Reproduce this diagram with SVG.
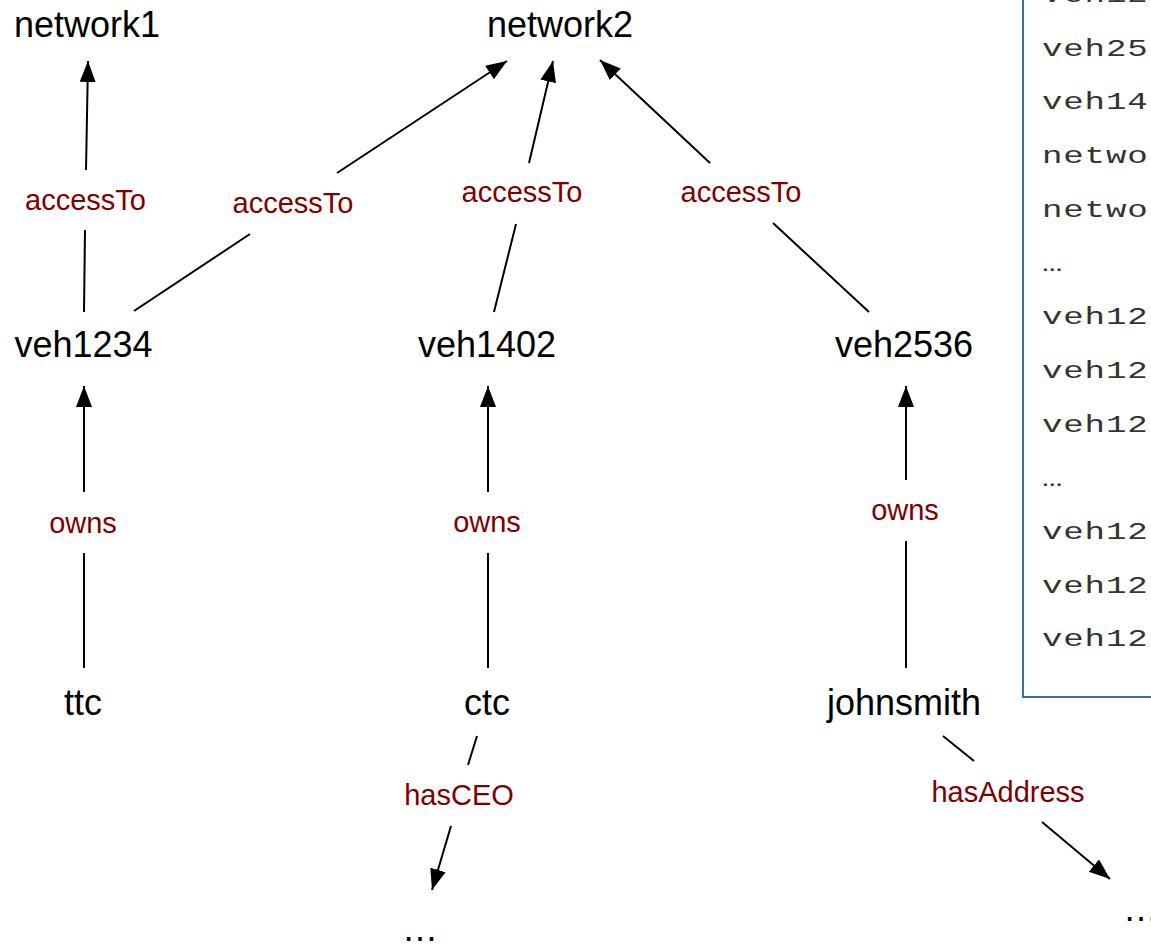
<svg xmlns="http://www.w3.org/2000/svg" width="1151" height="945" viewBox="0 0 1151 945">
<defs>
<marker id="arr" markerUnits="userSpaceOnUse" markerWidth="22" markerHeight="17" refX="21" refY="8" orient="auto">
<path d="M0,0 L21,8 L0,16 z" fill="#000"/>
</marker>
<style>
.node{font-family:"Liberation Sans",Helvetica,Arial,sans-serif;font-size:36px;fill:#000;text-anchor:middle}
.lbl{font-family:"Liberation Sans",Helvetica,Arial,sans-serif;font-size:29px;fill:#800000;text-anchor:middle}
.mono{font-family:"Liberation Mono","Courier New",monospace;font-size:24px;fill:#333;letter-spacing:0.6px}
line{stroke:#000;stroke-width:2;fill:none}
.a{marker-end:url(#arr)}
</style>
</defs>
<rect width="1151" height="945" fill="#fff"/>
<g id="panel">
<rect x="1023" y="-10" width="200" height="707" fill="#fff" stroke="#3a6ea8" stroke-width="2"/>
<text class="mono" transform="translate(1042,2) scale(1.42,1)">veh12</text>
<text class="mono" transform="translate(1042,56) scale(1.42,1)">veh25</text>
<text class="mono" transform="translate(1042,109) scale(1.42,1)">veh14</text>
<text class="mono" transform="translate(1042,163) scale(1.42,1)">netwo</text>
<text class="mono" transform="translate(1042,217) scale(1.42,1)">netwo</text>
<text class="mono" transform="translate(1042,271) scale(1.42,1)">…</text>
<text class="mono" transform="translate(1042,324) scale(1.42,1)">veh12</text>
<text class="mono" transform="translate(1042,378) scale(1.42,1)">veh12</text>
<text class="mono" transform="translate(1042,432) scale(1.42,1)">veh12</text>
<text class="mono" transform="translate(1042,486) scale(1.42,1)">…</text>
<text class="mono" transform="translate(1042,539) scale(1.42,1)">veh12</text>
<text class="mono" transform="translate(1042,593) scale(1.42,1)">veh12</text>
<text class="mono" transform="translate(1042,646) scale(1.42,1)">veh12</text>
</g>
<g id="connectors">
<line x1="84" y1="312" x2="85" y2="230"/>
<line class="a" x1="86" y1="170" x2="88" y2="61"/>
<line x1="134" y1="311" x2="250" y2="234"/>
<line class="a" x1="337" y1="173" x2="507" y2="61"/>
<line x1="494" y1="312" x2="516" y2="224"/>
<line class="a" x1="529" y1="163" x2="553" y2="61"/>
<line x1="869" y1="312" x2="773" y2="223"/>
<line class="a" x1="710" y1="163" x2="600" y2="60"/>
<line x1="84" y1="668" x2="84" y2="553"/>
<line class="a" x1="84" y1="492" x2="84" y2="386"/>
<line x1="488" y1="668" x2="488" y2="553"/>
<line class="a" x1="488" y1="492" x2="488" y2="386"/>
<line x1="906" y1="668" x2="906" y2="541"/>
<line class="a" x1="906" y1="480" x2="906" y2="386"/>
<line x1="477" y1="736" x2="468" y2="765"/>
<line class="a" x1="451" y1="826" x2="432" y2="890"/>
<line x1="943" y1="736" x2="974" y2="761"/>
<line class="a" x1="1042" y1="822" x2="1110" y2="879"/>
<text class="lbl" x="85.5" y="210">accessTo</text>
<text class="lbl" x="293" y="213">accessTo</text>
<text class="lbl" x="522" y="202">accessTo</text>
<text class="lbl" x="741" y="202">accessTo</text>
<text class="lbl" x="83" y="533">owns</text>
<text class="lbl" x="487" y="532">owns</text>
<text class="lbl" x="905" y="520">owns</text>
<text class="lbl" x="459" y="805">hasCEO</text>
<text class="lbl" x="1008" y="802">hasAddress</text>
</g>
<g id="network1"><text class="node" x="87" y="37">network1</text></g>
<g id="network2"><text class="node" x="560" y="37">network2</text></g>
<g id="veh1234"><text class="node" x="83.5" y="357">veh1234</text></g>
<g id="veh1402"><text class="node" x="487" y="357">veh1402</text></g>
<g id="veh2536"><text class="node" x="904" y="357">veh2536</text></g>
<g id="ttc"><text class="node" x="83" y="715">ttc</text></g>
<g id="ctc"><text class="node" x="487" y="715">ctc</text></g>
<g id="johnsmith"><text class="node" x="904" y="715">johnsmith</text></g>
<g id="more1"><text class="node" x="420" y="941">…</text></g>
<g id="more2"><text class="node" x="1141" y="921">…</text></g>
</svg>
